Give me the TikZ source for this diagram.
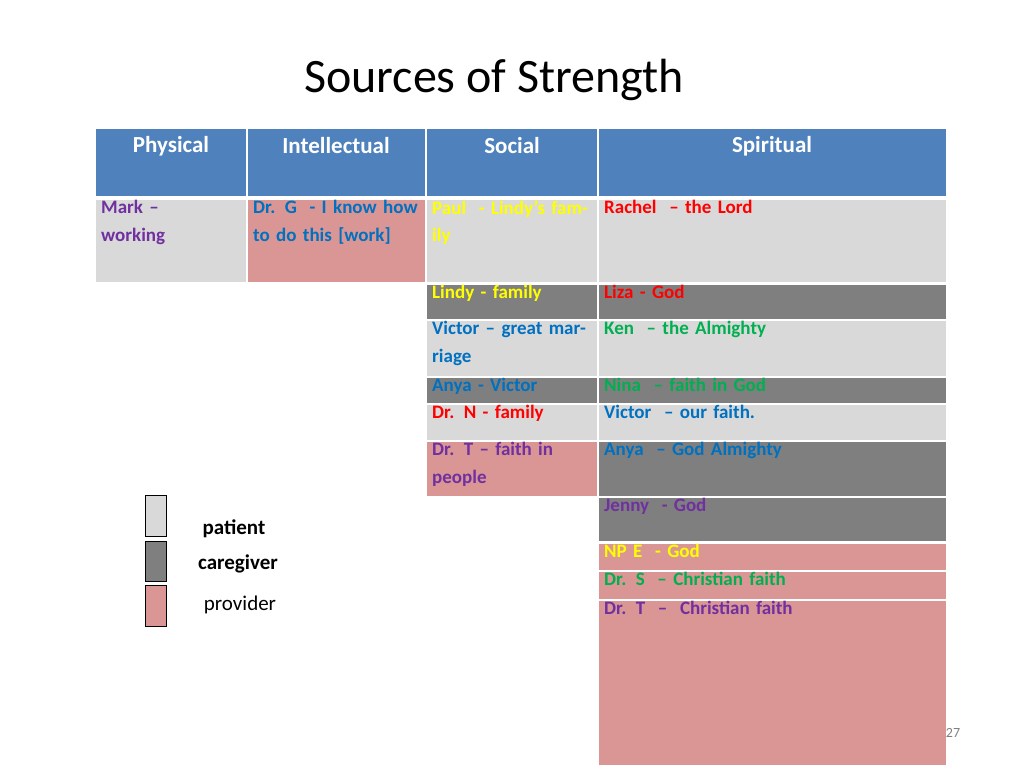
\documentclass[tikz,border=0pt]{standalone}
\usepackage{fontspec}
\setmainfont{Carlito}
\definecolor{hdr}{HTML}{4F81BD}
\definecolor{lg}{HTML}{D9D9D9}
\definecolor{dg}{HTML}{7F7F7F}
\definecolor{pk}{HTML}{D99694}
\definecolor{cpur}{HTML}{7030A0}
\definecolor{cblu}{HTML}{0070C0}
\definecolor{cyel}{HTML}{FFFF00}
\definecolor{cred}{HTML}{FF0000}
\definecolor{cgrn}{HTML}{00B050}
\newcommand{\mycell}[8]{%
  \fill[#5,draw=white,line width=1.5pt] (#1,#2) rectangle (#3,#4);
  \pgfmathsetmacro{\tw}{#3-#1-14}
  \node[celltext,text=#6,text width=\tw pt] (#8) at (#1+6,#2+1) {#7};}
\tikzset{
 celltext/.style={anchor=north west,inner sep=0pt,align=left,font=\fontsize{19}{27.5}\selectfont\bfseries},
 hdrtext/.style={text=white,font=\fontsize{23}{27}\selectfont\bfseries,anchor=center},
 legbox/.style={draw=black,line width=0.8pt},
 legtext/.style={font=\fontsize{21}{25}\selectfont,anchor=center}
}
\begin{document}
\begin{tikzpicture}[x=1pt,y=-1pt]
\useasboundingbox (0,0) rectangle (1024,768);
\node[font=\fontsize{48}{56}\selectfont,anchor=center] (title) at (494,80) {Sources of Strength};
% headers
\fill[hdr,draw=white,line width=1.5pt] (95,128) rectangle (247,197);
\fill[hdr,draw=white,line width=1.5pt] (247,128) rectangle (426,197);
\fill[hdr,draw=white,line width=1.5pt] (426,128) rectangle (598,197);
\fill[hdr,draw=white,line width=1.5pt] (598,128) rectangle (947,197);
\node[hdrtext] (h1) at (171,146) {Physical};
\node[hdrtext] (h2) at (336,146) {Intellectual};
\node[hdrtext] (h3) at (512,146) {Social};
\node[hdrtext] (h4) at (772,146) {Spiritual};
% cells
\mycell{95}{199}{247}{283}{lg}{cpur}{Mark --\\working}{c1}
\mycell{247}{199}{426}{283}{pk}{cblu}{Dr. G~ - I know how to do this [work]}{c2}
\mycell{426}{199}{598}{283}{lg}{cyel}{Paul~ - Lindy's family}{c3}
\mycell{598}{199}{947}{283}{lg}{cred}{Rachel~ -- the Lord}{c4}
\mycell{426}{284}{598}{320}{dg}{cyel}{Lindy - family}{c5}
\mycell{598}{284}{947}{320}{dg}{cred}{Liza - God}{c6}
\mycell{426}{320}{598}{377}{lg}{cblu}{Victor -- great marriage}{c7}
\mycell{598}{320}{947}{377}{lg}{cgrn}{Ken~ -- the Almighty}{c8}
\mycell{426}{377}{598}{404}{dg}{cblu}{Anya - Victor}{c9}
\mycell{598}{377}{947}{404}{dg}{cgrn}{Nina~ -- faith in God}{c10}
\mycell{426}{404}{598}{441}{lg}{cred}{Dr. N - family}{c11}
\mycell{598}{404}{947}{441}{lg}{cblu}{Victor~ -- our faith.}{c12}
\mycell{426}{441}{598}{497}{pk}{cpur}{Dr. T -- faith in people}{c13}
\mycell{598}{441}{947}{497}{dg}{cblu}{Anya~ -- God Almighty}{c14}
\mycell{598}{497}{947}{542}{dg}{cpur}{Jenny~ - God}{c15}
\mycell{598}{543}{947}{571}{pk}{cyel}{NP E~ - God}{c16}
\mycell{598}{571}{947}{600}{pk}{cgrn}{Dr. S~ -- Christian faith}{c17}
\mycell{598}{600}{947}{766}{pk}{cpur}{Dr. T~ -- ~Christian faith}{c18}
% legend
\node[legbox,fill=lg,minimum width=21pt,minimum height=41pt,inner sep=0pt] (l1) at (155.5,516) {};
\node[legbox,fill=dg,minimum width=21pt,minimum height=40pt,inner sep=0pt] (l2) at (155.5,561) {};
\node[legbox,fill=pk,minimum width=21pt,minimum height=41pt,inner sep=0pt] (l3) at (155.5,605.5) {};
\node[legtext,font=\fontsize{21}{25}\selectfont\bfseries] (t1) at (234,529) {patient};
\node[legtext,font=\fontsize{21}{25}\selectfont\bfseries] (t2) at (238,564) {caregiver};
\node[legtext] (t3) at (240,605) {provider};
\node[text=gray,font=\fontsize{14}{16}\selectfont] (pn) at (953,733) {27};
\end{tikzpicture}
\end{document}
